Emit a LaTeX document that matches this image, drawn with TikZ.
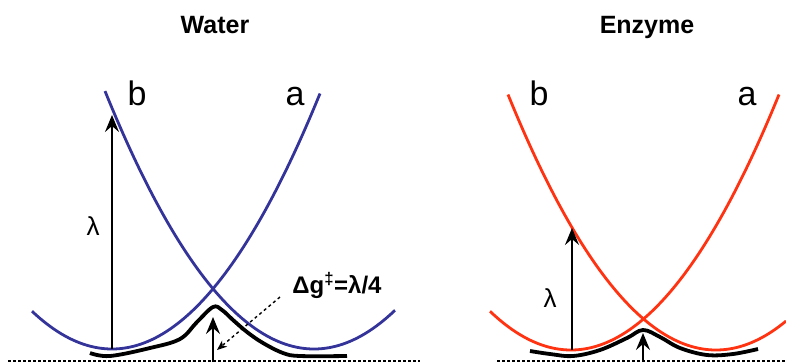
\documentclass[tikz,border=0pt]{standalone}
\usepackage{fontspec}
\setmainfont{Liberation Sans}
\usetikzlibrary{arrows.meta}
\definecolor{waterblue}{HTML}{33339A}
\definecolor{enzred}{HTML}{FF3311}

\begin{document}
\begin{tikzpicture}[x=1pt,y=-1pt,
          well/.style={line width=2.8pt},
          ground/.style={line width=3.8pt,line join=round},
          up/.style={line width=1.7pt,-{Stealth[length=17pt,width=14pt,inset=6pt]}},
          base/.style={line width=2.2pt,dash pattern=on 2.5pt off 2.5pt},
          title/.style={font=\fontsize{25}{28}\selectfont\bfseries,anchor=base},
          state/.style={font=\fontsize{34}{38}\selectfont,anchor=base},
          lam/.style={font=\fontsize{26}{28}\selectfont}]
        \useasboundingbox (0,0) rectangle (786,362);
        % water
        \node[title] (wtitle) at (215,33) {Water};
        \draw[well,waterblue] plot[domain=32:320,samples=80] (\x,{349-0.0059*(\x-112)*(\x-112)});
        \draw[well,waterblue] plot[domain=105:395,samples=80] (\x,{349-0.0059*(\x-314)*(\x-314)});
        \node[state] (wb) at (137,105) {b};
        \node[state] (wa) at (295,105) {a};
        \draw[ground] plot[smooth,tension=0.6] coordinates
          {(90,353) (110,356) (150,348) (180,339) (197,322) (213,307) (222,310) (233,320) (247,332) (263,343) (283,353) (300,356) (347,356)};
        \coordinate (wlo) at (112,349);
        \coordinate (whi) at (112,115);
        \draw[up] (wlo) -- (whi);
        \node[lam] (wlam) at (93,226) {λ};
        \coordinate (wbot) at (213,362);
        \coordinate (wtop) at (213,317);
        \draw[up] (wbot) -- (wtop);
        \node[font=\fontsize{24}{26}\selectfont\bfseries] (dg) at (337,285) {Δg\textsuperscript{‡}=λ/4};
        \coordinate (dgfrom) at (280,297);
        \coordinate (dgto) at (217,350);
        \draw[dashed,line width=1.4pt,-{Stealth[length=10pt,width=8pt,inset=3pt]}] (dgfrom) -- (dgto);
        \draw[base] (8,361) -- (420,361);
        % enzyme
        \node[title] (etitle) at (647,33) {Enzyme};
        \draw[well,enzred] plot[domain=490:779,samples=80] (\x,{350-0.0059*(\x-571)*(\x-571)});
        \draw[well,enzred] plot[domain=508:786,samples=80] (\x,{350-0.0059*(\x-716)*(\x-716)});
        \node[state] (eb) at (539,105) {b};
        \node[state] (ea) at (747,105) {a};
        \draw[ground] plot[smooth,tension=0.6] coordinates
          {(530,351) (550,354) (573,356) (600,350) (627,338) (643,330) (660,337) (680,348) (707,355) (733,354) (758,349)};
        \coordinate (elo) at (572,350);
        \coordinate (ehi) at (572,228);
        \draw[up] (elo) -- (ehi);
        \node[lam] (elam) at (550,298) {λ};
        \coordinate (ebot) at (643,362);
        \coordinate (etop) at (643,333);
        \draw[up] (ebot) -- (etop);
        \draw[base] (497,361) -- (786,361);
      \end{tikzpicture}
\end{document}
